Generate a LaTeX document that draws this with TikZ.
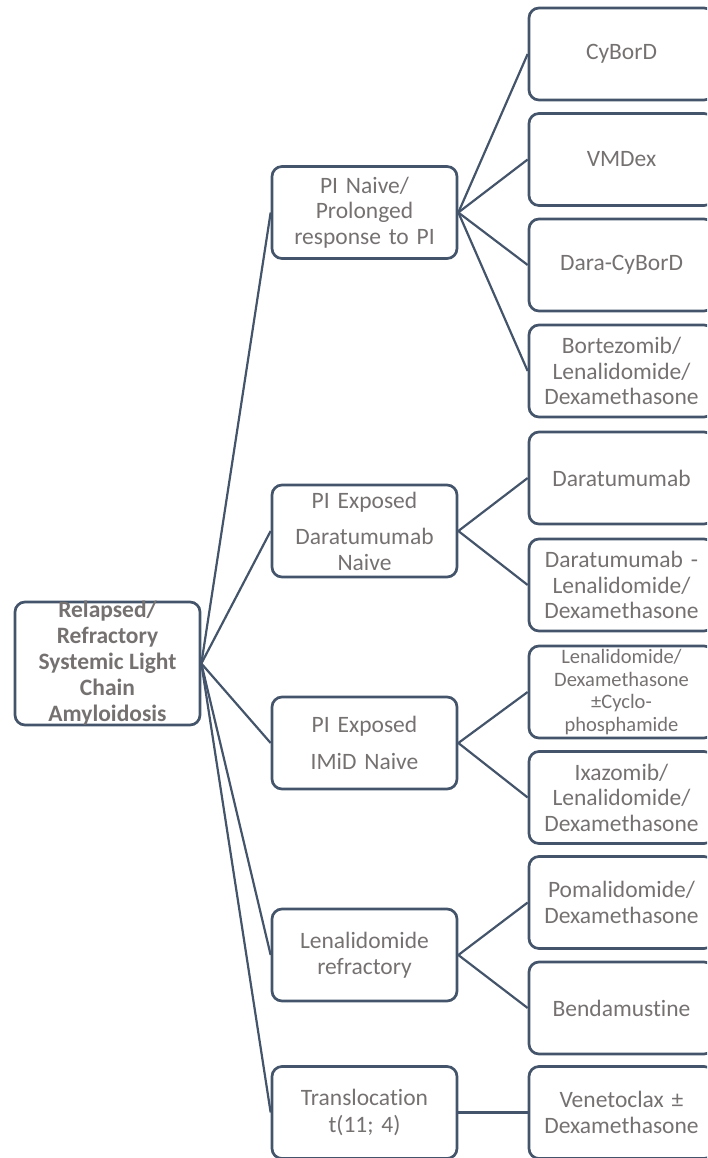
\documentclass[tikz,border=0pt]{standalone}
\usepackage{fontspec}
\setmainfont{Carlito}[Ligatures=NoCommon]
\usetikzlibrary{positioning}
\definecolor{linegray}{HTML}{44546A}
\definecolor{txtgray}{HTML}{767171}

\begin{document}
\begin{tikzpicture}[x=1pt, y=-1pt, line width=2.2pt,
	box/.style={draw=linegray, line width=2.7pt, rounded corners=10pt, minimum width=185pt, minimum height=92pt, text width=180pt, align=center, text=txtgray, inner sep=0pt, font=\fontsize{23.5}{25.5}\selectfont},
	smalltxt/.style={font=\fontsize{20.5}{22.5}\selectfont},
	link/.style={draw=linegray, line width=2.2pt}]
\clip (0,0) rectangle (707,1158);

% root
\node[box, minimum height=123pt] (root) at (107.5,663.5) {};
\node[text=txtgray, align=center, font=\bfseries\fontsize{23.5}{26}\selectfont] (roottext) at (root.center) {Relapsed/\\Refractory\\Systemic Light\\Chain\\Amyloidosis};

% second level
\node[box] (naive) at (364.5,212.5) {PI Naive/\\Prolonged\\response to PI};
\node[box] (daranaive) at (364.5,531) {PI Exposed\\[11pt]Daratumumab\\Naive};
\node[box] (imidnaive) at (364.5,743) {PI Exposed\\[11pt]IMiD Naive};
\node[box] (lenref) at (364.5,955) {Lenalidomide\\refractory};
\node[box] (transloc) at (364.5,1112.5) {Translocation\\[2pt]t(11; 4)};

% regimens
\node[box] (cybord) at (621.5,54) {CyBorD};
\node[box] (vmdex) at (621.5,159.5) {VMDex};
\node[box] (daracybord) at (621.5,265) {Dara-CyBorD};
\node[box] (vrd) at (621.5,371) {Bortezomib/\\Lenalidomide/\\Dexamethasone};
\node[box] (dara) at (621.5,478) {Daratumumab};
\node[box] (darard) at (621.5,585) {Daratumumab -\\Lenalidomide/\\Dexamethasone};
\node[box, smalltxt] (rdcyc) at (621.5,692) {Lenalidomide/\\Dexamethasone\\±Cyclo-\\phosphamide};
\node[box] (ird) at (621.5,797.5) {Ixazomib/\\Lenalidomide/\\Dexamethasone};
\node[box] (pomdex) at (621.5,902.5) {Pomalidomide/\\Dexamethasone};
\node[box] (benda) at (621.5,1008) {Bendamustine};
\node[box] (veneto) at (621.5,1112.5) {Venetoclax ±\\Dexamethasone};

% connectors
\foreach \m in {naive,daranaive,imidnaive,lenref,transloc}
	\draw[link] (root.east) -- (\m.west);
\foreach \r in {cybord,vmdex,daracybord,vrd}
	\draw[link] (naive.east) -- (\r.west);
\foreach \r in {dara,darard}
	\draw[link] (daranaive.east) -- (\r.west);
\foreach \r in {rdcyc,ird}
	\draw[link] (imidnaive.east) -- (\r.west);
\foreach \r in {pomdex,benda}
	\draw[link] (lenref.east) -- (\r.west);
\draw[link] (transloc.east) -- (veneto.west);

\end{tikzpicture}
\end{document}
